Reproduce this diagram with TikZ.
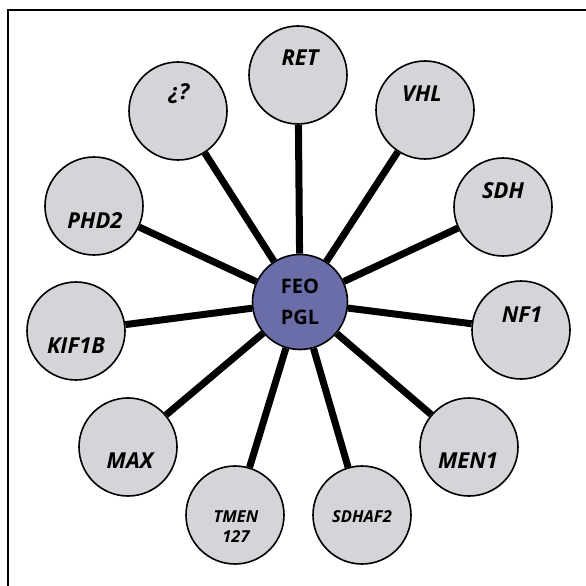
\documentclass[tikz,border=0pt]{standalone}
\usepackage{fontspec}
\setsansfont{Open Sans}
\definecolor{genegray}{RGB}{212,213,216}
\definecolor{feoblue}{RGB}{106,109,168}
\tikzset{
  gene/.style={circle, draw=black, line width=1.6pt, fill=genegray,
    minimum size=98pt, inner sep=0pt},
  hub/.style={gene, fill=feoblue, minimum size=95pt, align=center,
    text=black, font=\sffamily\bfseries\fontsize{20}{31}\selectfont},
  gname/.style={inner sep=0pt, align=center,
    font=\sffamily\bfseries\itshape\fontsize{22}{24}\selectfont},
  gsmall/.style={gname, font=\sffamily\bfseries\itshape\fontsize{16.5}{20}\selectfont}
}
\begin{document}
\begin{tikzpicture}[x=1pt, y=-1pt]
      \useasboundingbox (0,0) rectangle (586,586);
      \draw[line width=2pt] (8,586) -- (8,10) -- (586,10);
      \draw
        (300,302) node[hub] (feo) {FEO\\PGL}
        (298,75) node[gene] (ret) {}
        (425,110) node[gene] (vhl) {}
        (503,207) node[gene] (sdh) {}
        (521,330) node[gene] (nf1) {}
        (469,447) node[gene] (men1) {}
        (362,515) node[gene] (sdhaf2) {}
        (235,515) node[gene] (tmem) {}
        (128,447) node[gene] (max) {}
        (76,331) node[gene] (kif1b) {}
        (94,206) node[gene] (phd2) {}
        (178,111) node[gene] (unk) {};
      \path
        (300,58) node[gname] (ret-t) {RET}
        (422,94) node[gname] (vhl-t) {VHL}
        (503,190.5) node[gname] (sdh-t) {SDH}
        (522,314.5) node[gname] (nf1-t) {NF1}
        (468,461) node[gname] (men1-t) {MEN1}
        (362,516.5) node[gsmall] (sdhaf2-t) {SDHAF2}
        (236,526.5) node[gsmall] (tmem-t) {TMEN\\127}
        (130,461) node[gname] (max-t) {MAX}
        (76,346) node[gname] (kif1b-t) {KIF1B}
        (95,220.5) node[gname] (phd2-t) {PHD2}
        (179,94) node[gname] (unk-t) {¿?};
      \begin{scope}[-, line width=7pt]
        \draw (feo) to (ret);
        \draw (feo) to (vhl);
        \draw (feo) to (sdh);
        \draw (feo) to (nf1);
        \draw (feo) to (men1);
        \draw (feo) to (sdhaf2);
        \draw (feo) to (tmem);
        \draw (feo) to (max);
        \draw (feo) to (kif1b);
        \draw (feo) to (phd2);
        \draw (feo) to (unk);
      \end{scope}
    \end{tikzpicture}
\end{document}
